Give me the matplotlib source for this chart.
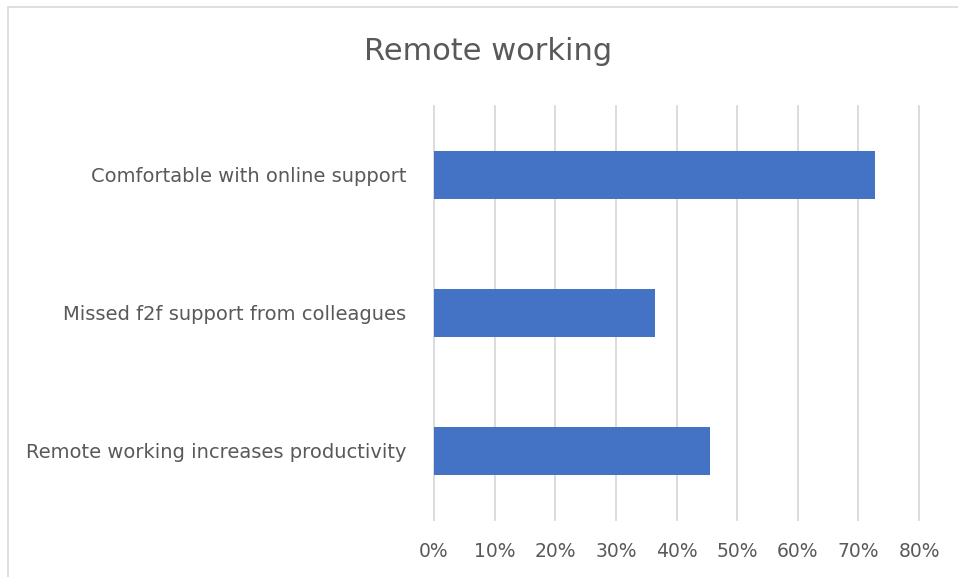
import numpy as np
import matplotlib
matplotlib.use("Agg")
import matplotlib.pyplot as plt
from matplotlib.patches import Rectangle
from matplotlib.ticker import PercentFormatter

# survey answers, share of respondents (%)
categories = ["Comfortable with online support",
              "Missed f2f support from colleagues",
              "Remote working increases productivity"]
values = [72.7, 36.4, 45.5]
xticks = [0, 10, 20, 30, 40, 50, 60, 70, 80]

bar_color = "#4472C4"
text_color = "#595959"
grid_color = "#D9D9D9"

plt.rcParams["font.family"] = ["DejaVu Sans"]

fig = plt.figure(figsize=(9.58, 5.77), dpi=100)
ax = fig.add_axes([434/958, 1 - 520/577, (919 - 434)/958, (520 - 106)/577])

# chart frame
fig.patches.append(Rectangle((8/958, -0.1), 1.2, 1 - 7/577 + 0.1,
                             transform=fig.transFigure, fill=False,
                             edgecolor=grid_color, linewidth=1.2))

y = np.arange(len(categories))
ax.barh(y, values, height=0.35, color=bar_color, zorder=3)
ax.set_yticks(y)
ax.set_yticklabels(categories)
ax.set_ylim(len(categories) - 0.5, -0.5)

ax.set_xlim(0, 80)
ax.set_xticks(xticks)
ax.xaxis.set_major_formatter(PercentFormatter(decimals=0))
ax.grid(axis="x", color=grid_color, linewidth=1.3, zorder=0)
ax.grid(axis="y", visible=False)
for gl in ax.get_xgridlines():
    gl.set_clip_on(False)

for s in ax.spines.values():
    s.set_visible(False)
ax.tick_params(axis="both", length=0, colors=text_color)
ax.tick_params(axis="y", pad=20, labelsize=14)
ax.tick_params(axis="x", pad=16, labelsize=13.5)

fig.text(488/958, 1 - 52/577, "Remote working", ha="center", va="center",
         fontsize=22, color=text_color)

fig.savefig("out.png", dpi=100)
